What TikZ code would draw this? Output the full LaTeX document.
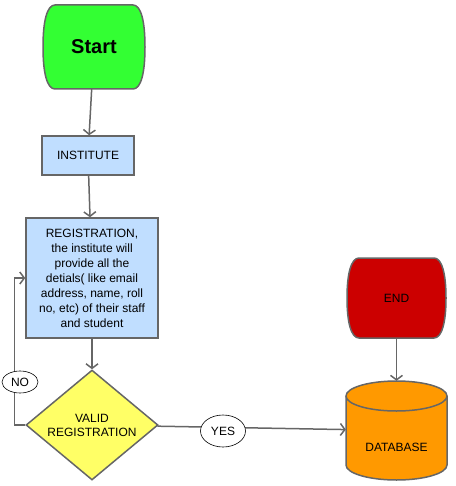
\documentclass[tikz,border=0pt]{standalone}
\usepackage{fontspec}
\setmainfont{Liberation Sans}
\usetikzlibrary{shapes.geometric,arrows.meta}
\definecolor{startgreen}{HTML}{33FF33}
\definecolor{boxblue}{HTML}{C0DEFF}
\definecolor{validyellow}{HTML}{FFFF66}
\definecolor{endred}{HTML}{CC0000}
\definecolor{dborange}{HTML}{FF9900}
\definecolor{edgegray}{HTML}{666666}
% terminal shape: left, top, right, bottom
\newcommand{\termpath}[4]{(#1+12,#2) -- (#3-12,#2) .. controls (#3-4,#2) and (#3,#2+16) .. (#3,{(#2+#4)/2}) .. controls (#3,#4-16) and (#3-4,#4) .. (#3-12,#4) -- (#1+12,#4) .. controls (#1+4,#4) and (#1,#4-16) .. (#1,{(#2+#4)/2}) .. controls (#1,#2+16) and (#1+4,#2) .. cycle}
\tikzset{
    box/.style={rectangle, draw=edgegray, line width=1.5pt, fill=boxblue, align=center, inner sep=0pt, font=\fontsize{12}{15}\selectfont},
    link/.style={draw=edgegray, line width=1.5pt, -{Straight Barb[length=4.5pt,width=12pt]}},
    lbl/.style={ellipse, draw=black, line width=0.6pt, fill=white, inner sep=0pt, font=\fontsize{12}{14}\selectfont},
}

\begin{document}
\begin{tikzpicture}[x=1pt,y=-1pt]
    \useasboundingbox (0,0) rectangle (455,486);
    \filldraw[fill=startgreen, draw=edgegray, line width=1.5pt] \termpath{43}{5}{145}{89};
    \node[minimum width=102pt, minimum height=84pt, font=\fontsize{20}{24}\selectfont\bfseries] (start) at (94,47) {Start};
    \node[box, minimum width=92pt, minimum height=39pt] (inst) at (88,155.5) {INSTITUTE};
    \node[box, minimum width=132pt, minimum height=120pt] (reg) at (92,278) {REGISTRATION,\\the institute will\\provide all the\\detials( like email\\address, name, roll\\no, etc) of their staff\\and student};
    \node[diamond, aspect=1.2, draw=edgegray, line width=1.5pt, fill=validyellow, minimum width=132pt, minimum height=110pt, inner sep=0pt, align=center, font=\fontsize{12}{14}\selectfont] (valid) at (92,425) {VALID\\REGISTRATION};
    \filldraw[fill=endred, draw=edgegray, line width=1.5pt] \termpath{347}{258}{446}{338};
    \node[minimum width=99pt, minimum height=80pt, font=\fontsize{12}{14}\selectfont] (end) at (396.5,298) {END};
    % database cylinder
    \filldraw[fill=dborange, draw=edgegray, line width=1.5pt] (346,396) -- (346,465) arc (180:0:50.5 and 15) -- (447,396) arc (0:-180:50.5 and 15) -- cycle;
    \draw[edgegray, line width=1.5pt] (346,396) arc (180:0:50.5 and 15);
    \node[minimum width=101pt, minimum height=99pt, inner sep=0pt,
        label={[yshift=-16.5pt, font=\fontsize{12}{14}\selectfont]center:DATABASE}] (db) at (396.5,430.5) {};

    \draw[link] (start) -- (inst);
    \draw[link] (inst) -- (reg);
    \draw[link] (reg) -- (valid);
    \draw[link] (valid.west) -- ++(-11,0) |- (reg.west);
    \node[lbl, minimum width=36pt, minimum height=22pt] (no) at (20,382) {NO};
    \draw[link] (valid) -- (db);
    \node[lbl, minimum width=45pt, minimum height=32pt] (yes) at (223,431) {YES};
    \draw[link] (end) -- (db);
\end{tikzpicture}
\end{document}
